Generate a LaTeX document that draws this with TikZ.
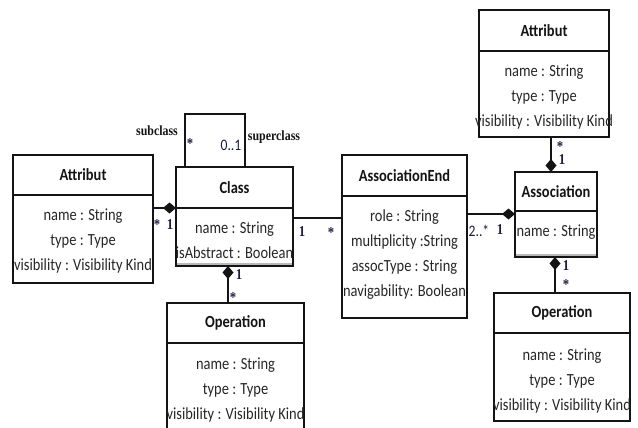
\documentclass[tikz,border=0pt]{standalone}
\usepackage{fontspec}
\setmainfont{Carlito}
\newfontfamily\boxfont[FakeStretch=0.85]{Carlito}
\newfontfamily\labelserif[FakeStretch=0.85]{Liberation Serif}
\usetikzlibrary{arrows.meta}
\definecolor{ink}{HTML}{141414}
\definecolor{bodyink}{HTML}{262626}
\definecolor{multink}{HTML}{1C1C40}
\tikzset{
  umlbox/.style={draw=ink, line width=1.2pt, rectangle, inner sep=0pt, outer sep=0pt},
  hdrtxt/.style={font=\boxfont\fontsize{17}{19}\selectfont\bfseries, text=ink},
  bodytxt/.style={font=\boxfont\fontsize{17}{25}\selectfont, text=bodyink, align=center, inner sep=0pt},
  multlabel/.style={font=\labelserif\bfseries\fontsize{15}{15}\selectfont, text=multink, inner sep=0pt},
  rangelabel/.style={font=\boxfont\fontsize{16}{16}\selectfont, text=multink, inner sep=0pt},
  rolelabel/.style={font=\labelserif\bfseries\fontsize{14}{14}\selectfont, text=ink, inner sep=0pt},
  link/.style={draw=ink, line width=1.3pt},
  comp/.style={-{Diamond[length=13pt,width=11pt]}},
  compstart/.style={{Diamond[length=13pt,width=11pt]}-},
  shadebar/.style={draw=gray!55, line width=2pt},
}
\begin{document}
\begin{tikzpicture}[x=1pt,y=-1pt]
\useasboundingbox (0,0) rectangle (638,428);
\clip (0,0) rectangle (638,428);

% ---- Attribut (left) ----
\node[umlbox, hdrtxt, minimum width=140, minimum height=40] (attrL-h) at (83,175) {Attribut};
\node[umlbox, minimum width=140, minimum height=88] (attrL-b) at (83,239) {};
\node[bodytxt] (attrL-t) at (83,241) {name : String\\type : Type\\visibility : Visibility Kind};

% ---- Class ----
\node[umlbox, hdrtxt, minimum width=117, minimum height=41] (cls-h) at (234.5,187.5) {Class};
\node[umlbox, minimum width=117, minimum height=58] (cls-b) at (234.5,237) {};
\node[bodytxt] (cls-t) at (234.5,240.5) {name : String\\isAbstract : Boolean};
\draw[shadebar] ([xshift=0.6pt,yshift=2pt]cls-b.south west) -- ([xshift=-0.6pt,yshift=2pt]cls-b.south east);

% ---- Operation (left) ----
\node[umlbox, hdrtxt, minimum width=137, minimum height=40] (opL-h) at (235.5,323) {Operation};
\node[umlbox, minimum width=137, minimum height=97] (opL-b) at (235.5,391.5) {};
\node[bodytxt] (opL-t) at (235.5,390.5) {name : String\\type : Type\\visibility : Visibility Kind};

% ---- AssociationEnd ----
\node[umlbox, hdrtxt, minimum width=125, minimum height=41] (ae-h) at (404.5,175.5) {AssociationEnd};
\node[umlbox, minimum width=125, minimum height=122] (ae-b) at (404.5,257) {};
\node[bodytxt] (ae-t) at (404.5,254.5) {role : String\\multiplicity :String\\assocType : String\\navigability: Boolean};

% ---- Association ----
\node[umlbox, hdrtxt, minimum width=82, minimum height=39] (as-h) at (556,191.5) {Association};
\node[umlbox, minimum width=82, minimum height=46] (as-b) at (556,234) {};
\node[bodytxt] (as-t) at (556,232) {name : String};
\draw[shadebar] ([xshift=0.6pt,yshift=2pt]as-b.south west) -- ([xshift=-0.6pt,yshift=2pt]as-b.south east);

% ---- Attribut (right) ----
\node[umlbox, hdrtxt, minimum width=130, minimum height=41] (attrR-h) at (544,30.5) {Attribut};
\node[umlbox, minimum width=130, minimum height=86] (attrR-b) at (544,94) {};
\node[bodytxt] (attrR-t) at (544,97) {name : String\\type : Type\\visibility : Visibility Kind};

% ---- Operation (right) ----
\node[umlbox, hdrtxt, minimum width=136, minimum height=40] (opR-h) at (562,313) {Operation};
\node[umlbox, minimum width=136, minimum height=88] (opR-b) at (562,377) {};
\node[bodytxt] (opR-t) at (562,381) {name : String\\type : Type\\visibility : Visibility Kind};

% ---- routing guides ----
\coordinate (loopL) at (185,114);
\coordinate (loopR) at (245,114);
\coordinate (rowCA) at (0,218);
\coordinate (rowEA) at (0,214);
\coordinate (colAt) at (551,0);
\coordinate (colOp) at (555,0);
\coordinate (colCO) at (228,0);

% ---- connectors ----
\draw[link] (loopL |- cls-h.north) -- (loopL) -- (loopR) -- (loopR |- cls-h.north);
\draw[link, comp] (cls-b.north west -| attrL-h.east) -- (cls-b.north west);
\draw[link] (rowCA -| cls-b.east) -- (rowCA -| ae-b.west);
\draw[link, comp] (rowEA -| ae-b.east) -- (rowEA -| as-b.west);
\draw[link, comp] (colAt |- attrR-b.south) -- (colAt |- as-h.north);
\draw[link, compstart] (colOp |- as-b.south) -- (colOp |- opR-h.north);
\draw[link, compstart] (colCO |- cls-b.south) -- (colCO |- opL-h.north);

% ---- role names and multiplicities ----
\node[rolelabel] (lbl-sub) at (157,131) {subclass};
\node[rolelabel] (lbl-super) at (274,137) {superclass};
\node[multlabel] (m-sub) at (190,144) {*};
\node[rangelabel] (m-super) at (231,145) {0..1};

\node[multlabel] (m-at1) at (157,225) {*};
\node[multlabel] (m-at2) at (170,225) {1};

\node[multlabel] (m-ca1) at (302,232) {1};
\node[multlabel] (m-ca2) at (331,233) {*};

\node[rangelabel] (m-ea1) at (479,231) {2..*};
\node[multlabel] (m-ea2) at (500,230) {1};

\node[multlabel] (m-ra1) at (560,147) {*};
\node[multlabel] (m-ra2) at (562,160) {1};

\node[multlabel] (m-ao1) at (566,266) {1};
\node[multlabel] (m-ao2) at (566,285) {*};

\node[multlabel] (m-co1) at (239,275) {1};
\node[multlabel] (m-co2) at (233,298) {*};
\end{tikzpicture}
\end{document}
